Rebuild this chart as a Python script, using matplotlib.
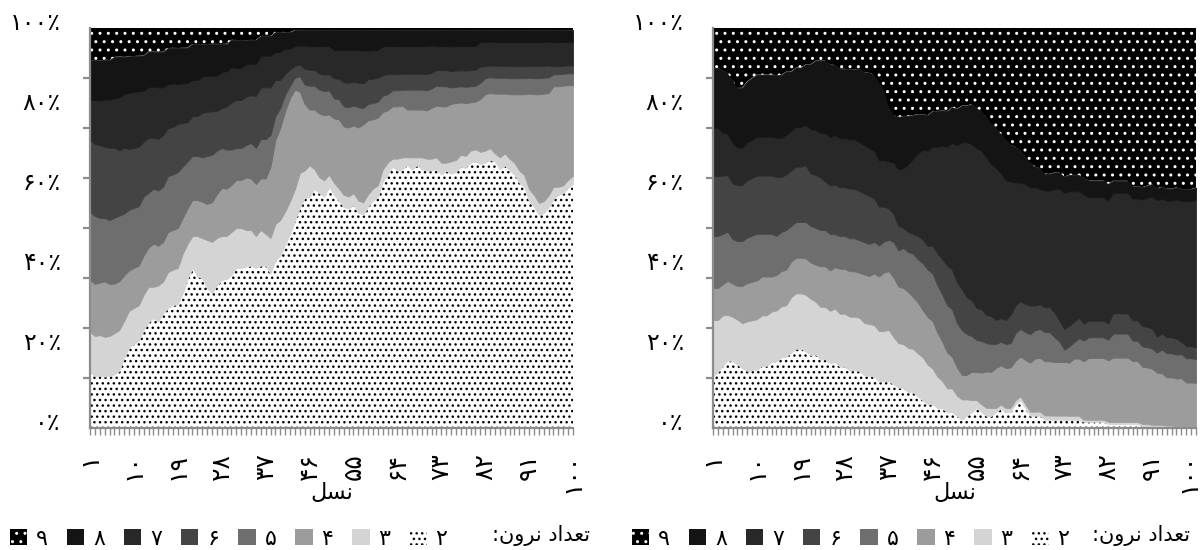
import numpy as np
import matplotlib
matplotlib.use("Agg")
import matplotlib.pyplot as plt
from matplotlib.patches import Patch
from matplotlib.ticker import MultipleLocator
import matplotlib.transforms as mtransforms

plt.rcParams['font.family'] = ['DejaVu Sans']
plt.rcParams['hatch.linewidth'] = 1.0

# ---------------- data ----------------
generations = list(range(1, 101))
series_labels = ['۲', '۳', '۴', '۵', '۶', '۷', '۸', '۹']
x_tick_gens = [1, 10, 19, 28, 37, 46, 55, 64, 73, 82, 91, 100]
x_tick_labels = ['۱', '۱۰', '۱۹', '۲۸', '۳۷', '۴۶', '۵۵', '۶۴', '۷۳', '۸۲', '۹۱', '۱۰۰']
y_tick_vals = [0, 20, 40, 60, 80, 100]
y_tick_labels = ['۰٪', '۲۰٪', '۴۰٪', '۶۰٪', '۸۰٪', '۱۰۰٪']
# Persian text in visual (left-to-right) order with joined letter forms
x_title = '\uFEDE\uFEB4\uFEE7'                                    # نسل
legend_title = ':\uFEE5\uFEED\uFEAE\uFEE7 \uFEA9\uFE8D\uFEAA\uFECC\uFE97'  # تعداد نرون:

# left panel: share (%) of each neuron count per generation
left_n2 = [14,13,13,13,13,13,14,17,20,21, 22,25,27,28,27,29,30,31,31,34,
           38,40,38,37,35,34,36,37,38,39, 40,40,40,41,40,41,41,39,42,43,
           44,47,52,57,59,58,60,59,57,60, 58,56,55,54,56,53,52,54,56,58,
           60,63,65,64,65,66,65,66,65,64, 66,65,63,64,62,63,65,64,66,67,
           65,66,68,67,65,66,64,63,61,60, 57,55,53,54,56,57,58,59,61,62]
left_n3 = [10,10,10,10,10,10,10,9,9,9, 9,9,9,8,9,8,9,9,9,10,
           9,8,10,10,12,13,12,11,11,11, 10,10,9,9,8,9,8,9,9,9,
           8,8,8,9,7,8,5,4,4,3, 3,3,3,3,3,3,3,3,3,3,
           3,3,2,3,3,2,3,2,3,3, 3,3,3,2,3,3,3,3,3,3,
           3,3,3,2,3,3,3,3,3,3, 3,3,3,3,3,3,2,2,2,2]
left_n4 = [13,13,13,14,13,12,12,11,10,10, 10,10,10,11,10,10,10,10,10,9,
           9,9,9,9,9,10,11,12,12,12, 12,12,13,13,13,13,14,18,21,23,
           24,25,25,21,17,14,15,16,16,15, 16,17,17,17,17,18,19,18,17,17,
           14,13,13,13,13,12,12,12,12,12, 13,13,14,14,14,14,13,13,12,12,
           13,14,14,15,16,15,16,17,19,20, 24,25,27,27,26,25,25,25,24,23]
left_n5 = [17,17,16,16,16,16,16,15,15,15, 15,15,14,14,14,14,14,14,14,13,
           12,11,11,11,12,12,11,10,10,9, 8,8,8,9,9,10,10,8,6,5,
           4,3,3,4,5,6,6,6,6,6, 5,5,5,5,5,5,4,4,4,4,
           4,4,4,4,4,5,5,5,5,5, 5,5,5,5,4,4,4,4,4,4,
           4,4,4,4,4,4,4,4,4,4, 4,4,4,4,4,3,3,3,3,3]
left_n6 = [18,18,18,18,18,17,16,16,15,15, 15,14,14,13,13,13,12,12,12,11,
           10,10,10,11,11,11,10,10,11,12, 12,12,12,12,13,13,13,12,9,7,
           5,4,3,3,4,4,4,4,4,4, 5,5,6,6,6,6,6,6,6,6,
           5,5,4,4,4,4,4,4,4,4, 4,4,4,4,4,4,4,4,4,4,
           4,3,3,3,3,3,3,3,3,3, 3,3,3,3,3,2,2,2,2,2]
left_n7 = [10,11,11,12,12,12,13,13,14,14, 14,13,13,13,13,12,11,11,10,10,
           10,9,9,9,9,9,9,9,9,9, 8,8,8,8,8,8,8,8,7,7,
           6,5,5,5,6,6,6,7,7,7, 7,7,8,8,8,8,8,7,7,7,
           7,7,7,7,7,7,7,7,7,7, 7,6,6,6,6,6,6,6,6,6,
           6,6,6,6,6,6,6,6,6,6, 6,6,6,6,6,6,6,6,6,6]
left_n8 = [10,10,10,10,10,10,10,9,9,9, 9,9,9,9,9,9,9,9,9,9,
           9,9,9,8,8,8,8,7,7,7, 7,7,6,6,6,5,5,5,5,5,
           4,4,4,4,4,4,4,4,4,4, 5,5,5,5,5,5,5,5,5,5,
           4,4,4,4,4,4,4,4,4,4, 4,4,4,4,4,4,4,4,4,4,
           3,3,3,3,3,3,3,3,3,3, 3,3,3,3,3,3,3,3,3,3]
left_n9 = [8,8,8,8,8,7,7,7,7,7, 7,7,6,6,6,6,5,5,5,5,
           5,4,4,4,4,4,4,4,4,3, 3,3,3,3,3,2,2,2,1,1,
           1,1,0.5,0.5,0.5,0.5,0.5,0.5,0.5,0.5, 0.5,0.5,0.5,0.5,0.5,0.5,0.5,0.5,0.5,0.5,
           0.5,0.5,0.5,0.5,0.5,0.5,0.5,0.5,0.5,0.5, 0.5,0.5,0.5,0.5,0.5,0.5,0.5,0.5,0.5,0.5,
           0.5,0.5,0.5,0.5,0.5,0.5,0.5,0.5,0.5,0.5, 0.5,0.5,0.5,0.5,0.5,0.5,0.5,0.5,0.5,0.5]

# right panel
right_n2 = [13,14,16,18,18,17,16,15,15,15, 16,16,17,17,18,18,19,20,20,19,
            18,18,17,17,16,16,15,15,14,14, 14,13,13,13,12,12,12,11,10,10,
            9,9,8,7,6,6,5,5,4,4, 3,2,3,4,5,4,3,3,4,5,
            4,4,6,7,5,3,3,3,2,2, 2,2,2,2,2,2,1.5,1.5,1.5,1.5,
            1.5,1,1,1,1,1,1,1,0.5,0.5, 0.5,0.5,0.5,0.3,0.3,0.2,0.2,0.1,0.1,0.1]
right_n3 = [14,13,13,12,12,12,12,13,13,13, 13,13,13,13,13,13,14,14,14,14,
            14,13,13,13,13,13,13,13,13,13, 13,13,13,13,13,13,13,12,11,11,
            11,11,11,11,10,9,8,7,6,6, 5,5,4,3,2,2,2,2,1,1,
            1,1,1,1,1,1,1,1,1,1, 1,1,1,1,1,1,0.5,0.5,0.5,0.5,
            0.5,0.5,0.5,0.5,0.5,0.5,0.5,0.5,0.5,0.5, 0.3,0.3,0.3,0.3,0.3,0.2,0.2,0.2,0.2,0.2]
right_n4 = [8,8,8,9,9,9,10,10,10,10, 10,10,9,9,9,9,9,9,9,9,
            9,9,10,10,10,10,11,11,11,11, 11,12,12,13,14,15,15,15,14,14,
            14,13,13,12,12,12,11,10,9,8, 7,6,6,7,7,8,9,9,10,10,
            10,10,10,10,11,12,13,13,13,13, 13,13,13,13,14,14,14,15,15,15,
            15,15,16,16,16,16,15,15,14,14, 14,13,13,12,12,12,12,11,11,11]
right_n5 = [13,13,13,13,12,12,12,12,12,12, 11,11,11,10,10,10,9,9,9,9,
            9,9,9,9,9,8,8,8,8,8, 8,8,8,8,8,8,8,9,9,10,
            10,11,11,12,12,12,12,12,12,12, 11,11,10,9,8,8,7,7,6,6,
            6,6,7,7,7,7,7,7,7,7, 6,5,3,4,4,5,5,5,5,5,
            5,5,6,6,6,6,5,5,5,5, 5,5,6,6,6,6,6,6,6,6]
right_n6 = [15,15,15,15,15,15,15,15,15,15, 15,15,15,15,14,14,14,14,14,14,
            13,13,13,12,12,12,12,12,12,12, 12,12,12,11,10,9,8,7,6,5,
            5,5,6,6,6,7,8,9,10,10, 10,10,9,9,8,8,7,7,6,6,
            6,7,7,7,7,7,6,6,6,6, 6,5,5,5,5,5,4,4,4,4,
            4,4,5,5,5,5,5,5,5,5, 5,4,4,4,4,4,3,3,3,3]
right_n7 = [12,12,11,11,11,10,10,10,10,10, 10,10,10,10,10,10,10,10,10,10,
            11,11,11,12,12,12,12,12,12,12, 12,12,12,12,12,12,12,13,14,15,
            17,19,21,23,24,25,27,29,30,32, 34,36,38,39,40,40,39,38,38,37,
            35,33,31,30,30,29,29,28,28,28, 30,32,33,33,32,31,31,30,30,30,
            30,30,30,30,30,30,30,30,31,32, 33,34,34,34,34,35,35,36,36,37]
right_n8 = [15,15,16,16,17,16,16,16,16,16, 16,16,16,16,16,16,15,15,15,15,
            16,17,18,18,18,17,17,17,17,17, 18,18,19,19,20,18,14,12,13,13,
            12,11,10,9,9,9,9,9,9,9, 9,9,9,10,10,10,10,10,10,10,
            10,9,9,8,7,6,5,5,4,4, 4,4,4,4,4,4,4,4,4,4,
            4,4,3,3,3,3,3,3,3,3, 3,3,3,3,3,3,3,3,3,3]
right_n9 = [10,10,11,12,14,16,16,14,13,12, 12,12,12,12,12,11,11,10,10,9,
            9,8,8,8,9,9,10,10,10,10, 10,11,11,12,14,16,20,22,22,22,
            22,22,22,22,22,21,21,21,21,20, 20,19,19,19,20,21,22,24,25,27,
            28,29,30,31,32,33,34,34,35,35, 35,35,36,36,36,36,36,37,37,37,
            37,38,38,38,38,38,39,39,39,39, 39,40,40,40,40,40,40,40,40,40]

left_series = [left_n2, left_n3, left_n4, left_n5, left_n6, left_n7, left_n8, left_n9]
right_series = [right_n2, right_n3, right_n4, right_n5, right_n6, right_n7, right_n8, right_n9]

# ---------------- style ----------------
face_colors = ['#ffffff', '#d4d4d4', '#9c9c9c', '#6e6e6e', '#444444', '#282828', '#141414', '#000000']
hatches = ['...', None, None, None, None, None, None, '..']
hatch_colors = ['#000000', None, None, None, None, None, None, '#ffffff']
axis_gray = '#8c8c8c'

W, H = 1203, 550
fig = plt.figure(figsize=(W / 100, H / 100), dpi=100)


def add_axes(x0, x1, y0, y1):
    return fig.add_axes([x0 / W, 1 - y1 / H, (x1 - x0) / W, (y1 - y0) / H])


def draw_panel(ax, series, last_label_shift=0):
    data = np.array(series, dtype=float)
    data = data / data.sum(axis=0) * 100.0   # 100% stacked
    polys = ax.stackplot(generations, data, colors=face_colors)
    for p, h, hc, fc in zip(polys, hatches, hatch_colors, face_colors):
        if h:
            p.set_hatch(h)
            p.set_edgecolor(hc)
            p.set_linewidth(0)
        else:
            p.set_edgecolor(fc)
            p.set_linewidth(0.6)
    ax.set_xlim(1, 100)
    ax.set_ylim(0, 100)
    for s in ('top', 'right'):
        ax.spines[s].set_visible(False)
    for s in ('left', 'bottom'):
        ax.spines[s].set_color(axis_gray)
        ax.spines[s].set_linewidth(1.6)
    # x axis
    ax.set_xticks(x_tick_gens, x_tick_labels, rotation=90, fontsize=18)
    ax.xaxis.set_minor_locator(MultipleLocator(1))
    ax.tick_params(axis='x', which='both', direction='out', length=5, width=1,
                   color=axis_gray, pad=13)
    if last_label_shift:
        lab = ax.get_xticklabels()[-1]
        lab.set_transform(lab.get_transform() + mtransforms.ScaledTranslation(
            -last_label_shift / 100, 0, fig.dpi_scale_trans))
    # y axis: labels every 20 %, tick marks every 12.5 %
    ax.set_yticks(y_tick_vals, y_tick_labels, fontsize=17)
    ax.yaxis.set_minor_locator(MultipleLocator(12.5))
    ax.tick_params(axis='y', which='major', length=0, pad=21)
    ax.tick_params(axis='y', which='minor', direction='out', length=5, width=1.6,
                   color=axis_gray)
    off = mtransforms.ScaledTranslation(0, 7 / 100, fig.dpi_scale_trans)
    for lab in ax.get_yticklabels():
        lab.set_transform(lab.get_transform() + off)
    ax.set_xlabel(x_title, fontsize=16)
    ax.xaxis.set_label_coords(0.5, -0.138)
    ax.set_facecolor('white')


ax1 = add_axes(90, 573, 28, 428)
ax2 = add_axes(713, 1196, 28, 428)
draw_panel(ax1, left_series)
draw_panel(ax2, right_series, last_label_shift=7)

# legends
handles = []
for fc, h, hc in zip(face_colors, hatches, hatch_colors):
    if h:
        handles.append(Patch(facecolor=fc, edgecolor=hc, hatch=h, linewidth=0))
    else:
        handles.append(Patch(facecolor=fc, edgecolor=fc, linewidth=0))
handles_rev = handles[::-1]
labels_rev = series_labels[::-1]

for ax, x_left, x_title_right in ((ax1, 10, 590), (ax2, 632, 1190)):
    leg = ax.legend(handles_rev, labels_rev, ncol=8, loc='center left',
                    bbox_to_anchor=(x_left / W, 1 - 539 / H),
                    bbox_transform=fig.transFigure, frameon=False,
                    fontsize=16, handlelength=0.77, handleheight=0.72,
                    handletextpad=0.4, columnspacing=0.86,
                    borderpad=0, borderaxespad=0)
    fig.text(x_title_right / W, 1 - 536 / H, legend_title, ha='right', va='center',
             fontsize=15)

fig.savefig('out.png', dpi=100)
